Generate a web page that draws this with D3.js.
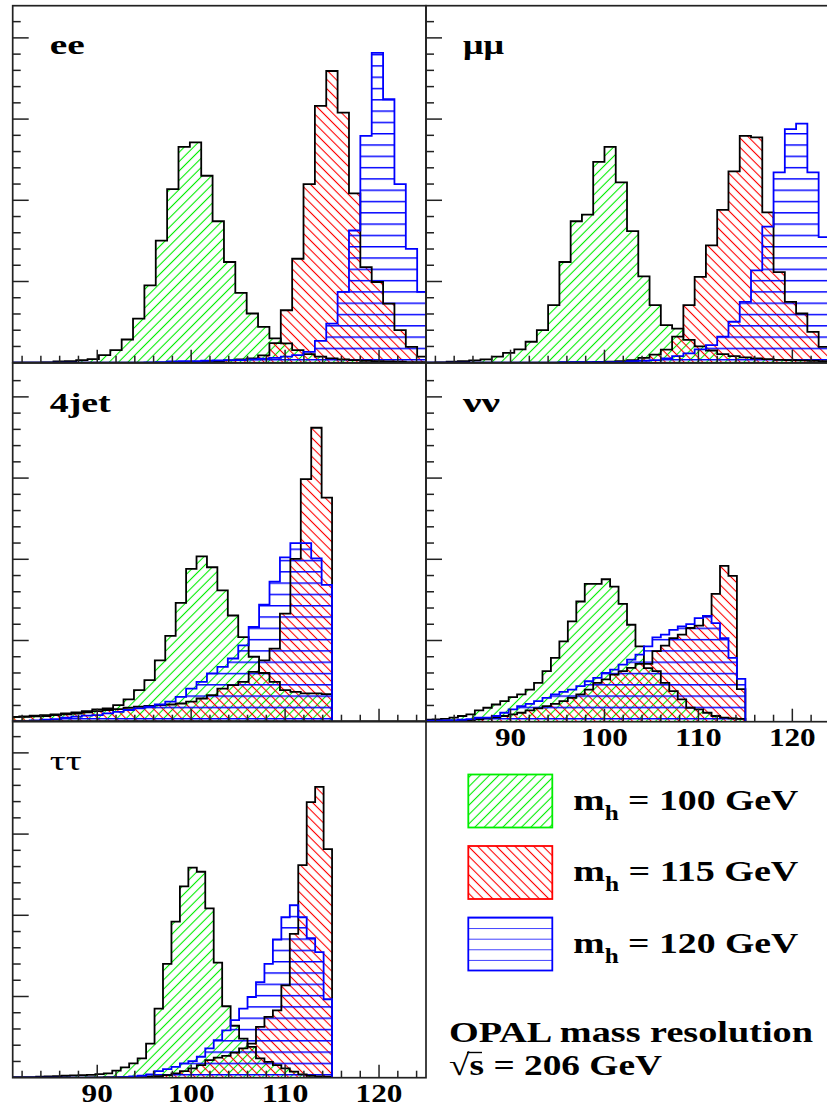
<!DOCTYPE html>
<html lang="en">
<head>
<meta charset="UTF-8">
<title>OPAL mass resolution</title>
<script src="https://cdn.jsdelivr.net/npm/d3@7"></script>
<style>
    body { margin: 0; background: #fff; }
    svg { display: block; font-family: 'Liberation Serif', 'DejaVu Serif', serif; }
</style>
</head>
<body>
<svg id="chart" width="827" height="1108"></svg>
<script>
// reconstructed mass (GeV), binning per channel: first bin edge and bin width
const eeBins = { start: 80.5, width: 1.21 };
const mumuBins = { start: 80.8, width: 1.2 };
const jetBins = { start: 80.59, width: 1.11 };
const nunuBins = { start: 80.8, width: 0.9 };
const tautauBins = { start: 80.8, width: 0.9 };

// entries per bin, m_h = 100 / 115 / 120 GeV
const eeGreen = [0, 0, 0, 0.2, 0.8, 1.0, 1.6, 2.2, 4.7, 7.8, 14.3, 27.2, 47.6, 75.2, 106.9, 132.9, 135.6, 115.1, 87.1, 62.0, 43.0, 30.3, 22.1, 15.0, 11.9, 7.8, 5.3, 3.7, 2.7, 2.0, 1.6, 1.2, 1.0, 0.8, 0.6, 0.4, 0.4];
const eeRed = [0, 0, 0, 0, 0, 0, 0, 0, 0, 0, 0, 0, 0, 0, 0, 0.3, 0.5, 0.8, 1.0, 1.4, 2.0, 2.7, 4.5, 12.0, 32.3, 64.0, 110.0, 158.1, 179.6, 154.0, 104.3, 58.9, 49.7, 36.4, 20.0, 9.8, 3.7];
const eeBlue = [0, 0, 0, 0, 0, 0, 0, 0, 0, 0, 0, 0, 0.2, 0.3, 0.8, 1.0, 1.0, 1.2, 1.4, 1.6, 1.6, 2.0, 2.5, 3.0, 3.7, 4.7, 6.7, 13.5, 24.1, 43.6, 81.4, 139.7, 190.8, 162.2, 110.0, 70.1, 43.6];

const mumuGreen = [0, 0.2, 0.6, 1.0, 1.4, 2.0, 3.7, 6.1, 8.2, 12.9, 20.0, 35.4, 62.0, 87.1, 91.2, 123.7, 132.9, 111.0, 81.0, 53.2, 35.4, 23.1, 21.0, 14.0, 10.0, 7.5, 5.3, 4.1, 3.3, 2.7, 2.2, 1.8, 1.6, 1.4, 1.2, 1.0, 0.8];
const mumuRed = [0, 0, 0, 0, 0, 0, 0, 0, 0, 0, 0, 0, 0.2, 0.3, 0.4, 0.5, 0.7, 1.0, 1.5, 3.0, 5.0, 8.0, 16.0, 35.4, 52.8, 72.2, 94.1, 117.8, 139.7, 138.7, 92.6, 55.8, 37.4, 30.3, 19.0, 9.8, 5.0];
const mumuBlue = [0, 0, 0, 0, 0, 0, 0, 0, 0, 0, 0, 0, 0.4, 0.4, 0.4, 0.4, 0.4, 0.4, 1.0, 1.2, 1.6, 2.7, 4.1, 5.7, 8.2, 10.8, 16.0, 25.2, 37.4, 56.9, 83.8, 117.2, 143.8, 147.2, 117.2, 77.3, 48.7];

const jetGreen = [3.0, 3.3, 3.7, 4.1, 4.5, 5.1, 5.7, 6.5, 7.6, 8.2, 10.2, 13.7, 19.4, 25.6, 37.8, 52.8, 73.2, 94.1, 101.8, 95.1, 80.8, 65.4, 52.1, 40.0, 30.0, 24.5, 19.4, 18.4, 17.4, 17.4, 17.0];
const jetRed = [3.0, 3.0, 3.3, 3.5, 4.0, 4.5, 5.0, 5.7, 6.5, 7.2, 7.8, 8.6, 9.2, 9.8, 10.2, 10.6, 11.2, 12.3, 14.3, 16.4, 20.4, 22.5, 24.5, 30.7, 37.8, 45.0, 66.5, 100.2, 149.3, 181.0, 138.0];
const jetBlue = [0.4, 0.4, 0.8, 1.2, 1.6, 2.5, 3.1, 3.7, 4.1, 5.1, 6.1, 7.2, 8.2, 9.2, 10.6, 12.3, 15.3, 20.4, 24.5, 29.7, 33.7, 38.9, 47.0, 58.3, 72.0, 86.3, 101.2, 110.0, 110.0, 100.6, 84.3];

const nunuGreen = [1.2, 1.4, 1.8, 2.5, 3.5, 4.5, 7.0, 8.6, 10.6, 12.7, 15.1, 16.8, 19.8, 23.9, 31.1, 39.3, 49.5, 61.8, 74.0, 84.9, 84.9, 87.7, 83.2, 72.6, 59.7, 46.4, 33.0, 31.1, 23.9, 18.8, 13.7, 8.6, 7.6, 5.5, 3.5, 2.5, 2.0, 1.8];
const nunuRed = [0, 0.2, 0.2, 0.4, 0.6, 1.0, 1.4, 2.0, 2.7, 3.5, 4.5, 5.5, 7.0, 8.2, 9.6, 11.0, 12.7, 14.7, 16.8, 19.8, 23.9, 26.0, 29.0, 31.1, 33.1, 35.6, 35.6, 43.4, 46.8, 51.5, 53.6, 57.7, 59.1, 65.2, 78.7, 95.9, 89.8, 20.0];
const nunuBlue = [0.6, 0.6, 0.8, 1.0, 1.2, 1.6, 2.5, 2.5, 3.5, 5.5, 7.6, 9.6, 11.0, 12.7, 14.7, 16.8, 18.4, 19.8, 21.9, 24.9, 27.0, 30.1, 32.1, 35.2, 38.2, 41.3, 46.4, 51.9, 53.6, 56.6, 58.7, 60.1, 63.8, 65.2, 60.7, 51.5, 39.3, 26.4];

const tautauGreen = [0.4, 0.4, 0.4, 0.6, 0.8, 1.0, 1.2, 1.4, 1.6, 1.8, 2.2, 2.7, 4.3, 6.3, 8.8, 11.9, 21.0, 42.5, 70.1, 96.1, 117.8, 129.4, 126.8, 104.3, 70.8, 44.0, 32.0, 24.0, 19.0, 11.9, 9.8, 7.8, 5.7, 3.7, 2.0, 1.2, 0.8, 0.6];
const tautauRed = [0, 0, 0, 0, 0, 0, 0, 0, 0, 0.2, 0.2, 0.3, 0.4, 0.4, 0.4, 0.4, 0.6, 1.0, 1.6, 2.7, 4.1, 5.7, 7.8, 10.8, 12.3, 13.5, 15.5, 18.0, 21.0, 31.3, 37.4, 41.5, 56.9, 88.5, 130.9, 169.7, 179.1, 140.7];
const tautauBlue = [0, 0, 0, 0, 0, 0, 0, 0, 0, 0, 0, 0, 0.2, 0.4, 0.8, 1.2, 2.0, 4.1, 5.3, 6.7, 8.8, 10.2, 12.9, 18.0, 23.1, 29.2, 35.4, 42.5, 49.7, 58.9, 70.1, 85.1, 98.8, 106.3, 98.8, 85.9, 77.3, 48.3];

const higgsMasses = ['100', '115', '120'];
const xTickValues = [90, 100, 110, 120];
const channelNames = ['ee', 'μμ', '4jet', 'νν', 'ττ'];

const channels = [
    { name: channelNames[0], col: 0, row: 0, bins: eeBins, hists: [eeGreen, eeRed, eeBlue], bold: true, labelLen: 35 },
    { name: channelNames[1], col: 1, row: 0, bins: mumuBins, hists: [mumuGreen, mumuRed, mumuBlue], bold: true, labelLen: 41 },
    { name: channelNames[2], col: 0, row: 1, bins: jetBins, hists: [jetGreen, jetRed, jetBlue], bold: true, labelLen: 61 },
    { name: channelNames[3], col: 1, row: 1, bins: nunuBins, hists: [nunuGreen, nunuRed, nunuBlue], bold: true, labelLen: 37, xLabels: true },
    { name: channelNames[4], col: 0, row: 2, bins: tautauBins, hists: [tautauGreen, tautauRed, tautauBlue], bold: false, labelLen: 32, xLabels: true }
];

const W = 827, H = 1108;
const cols = [[12.7, 426], [426, 839.3]];
const rows = [{ top: 5.7, axis: 362.7 }, { top: 363, axis: 721.7 }, { top: 721, axis: 1077.7 }];
const yMax = 220, yPix = 357.3;

const svg = d3.select('#chart');
svg.append('rect').attr('width', W).attr('height', H).attr('fill', '#fff');
const defs = svg.append('defs');

function diagPattern(id, angle, color) {
    const p = defs.append('pattern')
        .attr('id', id)
        .attr('patternUnits', 'userSpaceOnUse')
        .attr('width', 6.6).attr('height', 6.6)
        .attr('patternTransform', `rotate(${angle})`);
    p.append('line')
        .attr('x1', 3.3).attr('y1', -1).attr('x2', 3.3).attr('y2', 7.6)
        .attr('stroke', color).attr('stroke-width', 1.1);
}

function flatPattern(id, offset, step) {
    const p = defs.append('pattern')
        .attr('id', id)
        .attr('patternUnits', 'userSpaceOnUse')
        .attr('width', 20).attr('height', step)
        .attr('patternTransform', `translate(0, ${offset})`);
    p.append('line')
        .attr('x1', -1).attr('y1', 0.7).attr('x2', 21).attr('y2', 0.7)
        .attr('stroke', '#0000ff').attr('stroke-width', 1.5);
}

diagPattern('hatch-green', 45, '#00ee00');
diagPattern('hatch-red', -45, '#ff0000');
rows.forEach((r, i) => flatPattern('hatch-blue-' + i, r.axis - 3.7, 11.3));

const seriesStyle = [
    { fill: () => 'url(#hatch-green)', stroke: '#000', legendStroke: '#00ee00' },
    { fill: () => 'url(#hatch-red)', stroke: '#000', legendStroke: '#ff0000' },
    { fill: row => `url(#hatch-blue-${row})`, stroke: '#0000ff', legendStroke: '#0000ff' }
];

function histPoints(bins, values) {
    const pts = [[bins.start, 0]];
    values.forEach((v, i) => {
        const lo = bins.start + i * bins.width;
        pts.push([lo, v], [lo + bins.width, v]);
    });
    pts.push([bins.start + values.length * bins.width, 0]);
    return pts;
}

channels.forEach((ch, ci) => {
    const [x0, x1] = cols[ch.col];
    const r = rows[ch.row];
    const x = d3.scaleLinear().domain([81, 125]).range([x0, x1]);
    const y = d3.scaleLinear().domain([0, yMax]).range([r.axis, r.axis - yPix]);
    const line = d3.line().x(d => x(d[0])).y(d => y(d[1]));

    defs.append('clipPath').attr('id', 'clip-' + ci)
        .append('rect')
        .attr('x', x0).attr('y', r.top)
        .attr('width', x1 - x0).attr('height', r.axis - r.top);

    const g = svg.append('g').attr('clip-path', `url(#clip-${ci})`);
    const paths = ch.hists.map(h => histPoints(ch.bins, h));

    // hatched fills first, then outlines on top
    paths.forEach((pts, si) => {
        g.append('path')
            .attr('d', line(pts) + 'Z')
            .attr('fill', seriesStyle[si].fill(ch.row))
            .attr('stroke', 'none');
    });
    paths.forEach((pts, si) => {
        g.append('path')
            .attr('d', line(pts))
            .attr('fill', 'none')
            .attr('stroke', seriesStyle[si].stroke)
            .attr('stroke-width', 1.8);
    });

    // frame
    svg.append('rect')
        .attr('x', x0).attr('y', r.top)
        .attr('width', x1 - x0).attr('height', r.axis - r.top)
        .attr('fill', 'none').attr('stroke', '#222').attr('stroke-width', 1.7);

    // y ticks on the left edge, pointing inwards
    const yTicks = d3.range(10, yMax, 10);
    svg.append('g').selectAll('line').data(yTicks).join('line')
        .attr('x1', x0).attr('x2', d => x0 + (d % 50 === 0 ? 16 : 8))
        .attr('y1', d => y(d)).attr('y2', d => y(d))
        .attr('stroke', '#222').attr('stroke-width', 1.5);

    // x ticks on the bottom edge, pointing up
    const xTicks = d3.range(82, 125, 2);
    svg.append('g').selectAll('line').data(xTicks).join('line')
        .attr('x1', d => x(d)).attr('x2', d => x(d))
        .attr('y1', r.axis).attr('y2', d => r.axis - (d % 10 === 0 ? 13 : 7))
        .attr('stroke', '#222').attr('stroke-width', 1.5);

    if (ch.xLabels) {
        svg.append('g').selectAll('text').data(xTickValues).join('text')
            .attr('x', d => x(d)).attr('y', r.axis + 24)
            .attr('text-anchor', 'middle')
            .attr('font-size', 25).attr('font-weight', 'bold')
            .attr('textLength', d => String(d).length * 15.6)
            .attr('lengthAdjust', 'spacingAndGlyphs')
            .text(d => d);
    }

    svg.append('text')
        .attr('x', x0 + 37).attr('y', r.top + 48.5)
        .attr('font-size', 27)
        .attr('font-weight', ch.bold ? 'bold' : 'normal')
        .attr('textLength', ch.labelLen)
        .attr('lengthAdjust', 'spacingAndGlyphs')
        .text(ch.name);
});

// legend
const legendTops = [774.5, 846, 917.5];
legendTops.forEach((top, i) => {
    let fill = seriesStyle[i].fill(0);
    if (i === 2) {
        defs.append('pattern')
            .attr('id', 'hatch-blue-legend')
            .attr('patternUnits', 'userSpaceOnUse')
            .attr('width', 20).attr('height', 10.6)
            .attr('patternTransform', `translate(0, ${top})`)
            .append('line')
            .attr('x1', -1).attr('y1', 0).attr('x2', 21).attr('y2', 0)
            .attr('stroke', '#0000ff').attr('stroke-width', 1.5);
        fill = 'url(#hatch-blue-legend)';
    }
    svg.append('rect')
        .attr('x', 468.3).attr('y', top)
        .attr('width', 84).attr('height', 53)
        .attr('fill', fill)
        .attr('stroke', seriesStyle[i].legendStroke).attr('stroke-width', 1.8);

    const t = svg.append('text')
        .attr('x', 573.3).attr('y', top + 35)
        .attr('font-size', 30).attr('font-weight', 'bold')
        .attr('textLength', 225).attr('lengthAdjust', 'spacingAndGlyphs');
    t.append('tspan').text('m');
    t.append('tspan').attr('font-size', 20).attr('dy', 10).text('h');
    t.append('tspan').attr('dy', -10).text(` = ${higgsMasses[i]} GeV`);
});

svg.append('text')
    .attr('x', 449).attr('y', 1041.7)
    .attr('font-size', 30).attr('font-weight', 'bold')
    .attr('textLength', 364).attr('lengthAdjust', 'spacingAndGlyphs')
    .text('OPAL mass resolution');

svg.append('text')
    .attr('x', 449).attr('y', 1075)
    .attr('font-size', 30).attr('font-weight', 'bold')
    .attr('textLength', 213).attr('lengthAdjust', 'spacingAndGlyphs')
    .text('√s = 206 GeV');
// bar over the s of the square root
svg.append('line')
    .attr('x1', 467).attr('x2', 482)
    .attr('y1', 1052.5).attr('y2', 1052.5)
    .attr('stroke', '#000').attr('stroke-width', 1.4);
</script>
</body>
</html>
